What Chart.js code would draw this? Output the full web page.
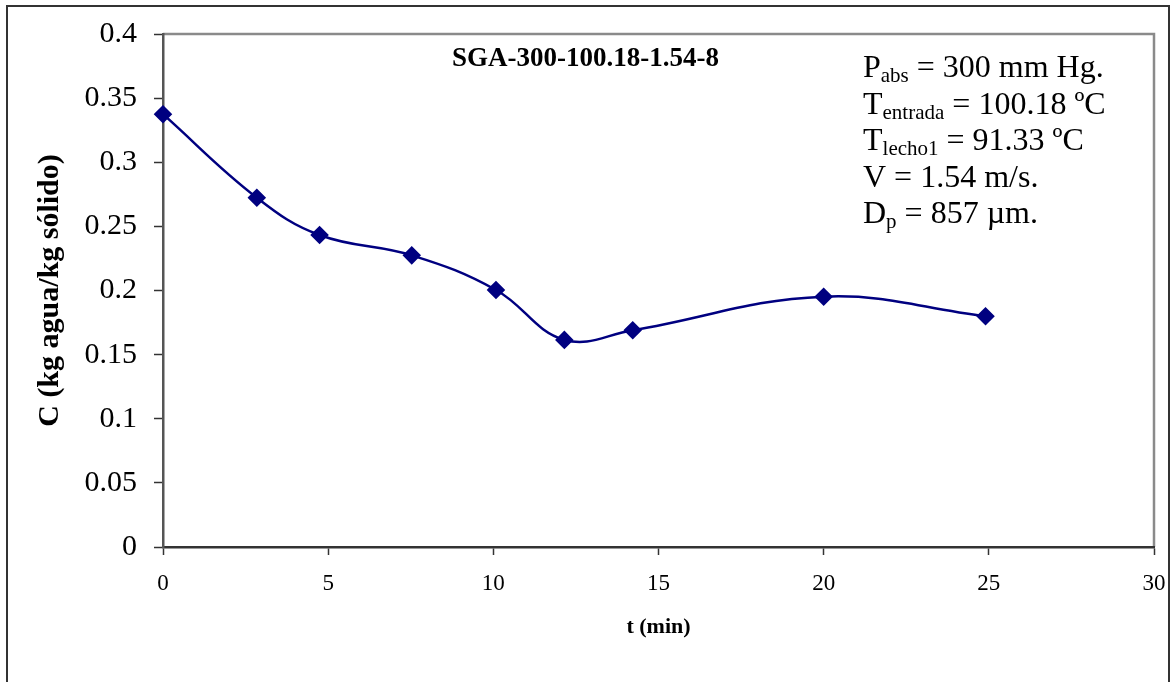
<!DOCTYPE html>
<html>
<head>
<meta charset="utf-8">
<script src="https://cdn.jsdelivr.net/npm/chart.js@4.4.1/dist/chart.umd.min.js"></script>
<style>
  html, body { margin: 0; padding: 0; background: #fff; }
  #wrap { width: 1175px; height: 682px; }
</style>
</head>
<body>
<div id="wrap"><canvas id="myChart" width="1175" height="682"></canvas></div>
<script>
// t (min) and C (kg agua/kg solido)
const tMin = [0, 2.84, 4.74, 7.53, 10.08, 12.15, 14.22, 20.0, 24.9];
const cWater = [0.3375, 0.2724, 0.2433, 0.2274, 0.2004, 0.1615, 0.169, 0.1952, 0.180];

const xTicks = [0, 5, 10, 15, 20, 25, 30];
const yTicks = [0, 0.05, 0.1, 0.15, 0.2, 0.25, 0.3, 0.35, 0.4];

const chartTitle = 'SGA-300-100.18-1.54-8';
// each line: [main, subscript, rest]
const infoLines = [
  ['P', 'abs', ' = 300 mm Hg.'],
  ['T', 'entrada', ' = 100.18 ºC'],
  ['T', 'lecho1', ' = 91.33 ºC'],
  ['V', '', ' = 1.54 m/s.'],
  ['D', 'p', ' = 857 µm.']
];

const SERIF = '"Liberation Serif", "Times New Roman", serif';
const navy = '#000080';

const points = tMin.map((t, i) => ({x: t, y: cWater[i]}));

const decorations = {
  id: 'decorations',
  beforeDraw(chart) {
    const ctx = chart.ctx;
    const a = chart.chartArea;
    ctx.save();
    ctx.fillStyle = '#fff';
    ctx.fillRect(0, 0, chart.width, chart.height);
    // outer frame
    ctx.strokeStyle = '#333';
    ctx.lineWidth = 2;
    ctx.strokeRect(7, 6, 1162, 700);
    // plot box top and right edges
    ctx.strokeStyle = '#8a8a8a';
    ctx.lineWidth = 2.5;
    ctx.beginPath();
    ctx.moveTo(a.left, a.top);
    ctx.lineTo(a.right, a.top);
    ctx.lineTo(a.right, a.bottom);
    ctx.stroke();
    ctx.restore();
  },
  afterDraw(chart) {
    const ctx = chart.ctx;
    ctx.save();
    ctx.fillStyle = '#000';
    ctx.textBaseline = 'alphabetic';
    ctx.textAlign = 'left';
    ctx.font = 'bold 27px ' + SERIF;
    ctx.fillText(chartTitle, 452, 66);

    let y = 77;
    infoLines.forEach(l => {
      let x = 863;
      ctx.font = '32px ' + SERIF;
      ctx.fillText(l[0], x, y);
      x += ctx.measureText(l[0]).width;
      if (l[1]) {
        ctx.font = '21px ' + SERIF;
        ctx.fillText(l[1], x, y + 5);
        x += ctx.measureText(l[1]).width;
      }
      ctx.font = '32px ' + SERIF;
      ctx.fillText(l[2], x, y);
      y += 36.5;
    });
    ctx.restore();
  }
};

const config = {
  type: 'line',
  data: {
    datasets: [{
      data: points,
      borderColor: navy,
      backgroundColor: navy,
      borderWidth: 2.5,
      pointStyle: 'rectRot',
      pointRadius: 7.5,
      pointHoverRadius: 7.5,
      tension: 0.4,
      clip: false,
      fill: false
    }]
  },
  options: {
    responsive: false,
    animation: false,
    events: [],
    layout: { padding: { left: 0, top: 34, right: 21, bottom: 0 } },
    plugins: { legend: { display: false }, tooltip: { enabled: false } },
    scales: {
      x: {
        type: 'linear',
        min: xTicks[0],
        max: xTicks[xTicks.length - 1],
        afterBuildTicks: s => { s.ticks = xTicks.map(v => ({value: v})); },
        afterFit: s => { s.height = 135; s.paddingLeft = 0; s.paddingRight = 0; },
        border: { color: '#333', width: 2.5 },
        grid: { drawOnChartArea: false, tickLength: 8, color: '#333', tickWidth: 1.5 },
        ticks: {
          color: '#000', padding: 15, maxRotation: 0,
          font: { family: SERIF, size: 23 },
          callback: v => String(v)
        },
        title: {
          display: true, text: 't (min)', color: '#000',
          font: { family: SERIF, size: 22, weight: 'bold' },
          padding: { top: 0, bottom: 41 }
        }
      },
      y: {
        type: 'linear',
        min: yTicks[0],
        max: yTicks[yTicks.length - 1],
        afterBuildTicks: s => { s.ticks = yTicks.map(v => ({value: v})); },
        afterFit: s => { s.width = 163; s.paddingTop = 0; s.paddingBottom = 0; },
        border: { color: '#555', width: 2.5 },
        grid: { drawOnChartArea: false, tickLength: 9, color: '#333', tickWidth: 1.5 },
        ticks: {
          color: '#000', padding: 17,
          font: { family: SERIF, size: 30 },
          callback: v => String(+v.toFixed(2))
        },
        title: {
          display: true, text: 'C (kg agua/kg sólido)', color: '#000',
          font: { family: SERIF, size: 30, weight: 'bold' },
          padding: { top: 32, bottom: 0 }
        }
      }
    }
  },
  plugins: [decorations]
};

const myChart = new Chart(document.getElementById('myChart'), config);
</script>
</body>
</html>
